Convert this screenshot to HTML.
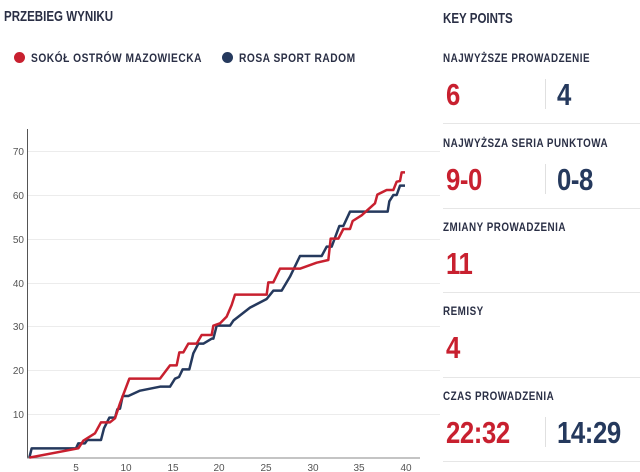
<!DOCTYPE html>
<html><head><meta charset="utf-8"><style>
body{margin:0;width:640px;height:472px;background:#fff;font-family:"Liberation Sans",sans-serif;position:relative;overflow:hidden;color:#2a2f45}
.a{position:absolute;white-space:nowrap;transform-origin:0 0}
.h{font-weight:bold;font-size:15px;color:#2a2f45;transform:scaleX(0.77)}
.t{font-weight:bold;font-size:12px;letter-spacing:0.6px;color:#2a2f45;transform:scaleX(0.82)}
.n{font-weight:bold;font-size:31px;letter-spacing:-0.5px;transform:scaleX(0.83)}
.r{color:#c8202f}.b{color:#25395d}
.hr{position:absolute;left:443px;width:197px;height:1px;background:#e6e6e6}
.vr{position:absolute;left:545px;width:1px;height:30px;background:#e0e0e0}
.dot{position:absolute;width:11px;height:11px;border-radius:50%}
</style></head><body>
<div class="a h" style="left:4px;top:8px">PRZEBIEG WYNIKU</div>
<div class="dot" style="left:14px;top:52px;background:#c8202f"></div>
<div class="a t" style="left:31px;top:51px;transform:scaleX(0.85)">SOKÓŁ OSTRÓW MAZOWIECKA</div>
<div class="dot" style="left:222px;top:52px;background:#25395d"></div>
<div class="a t" style="left:239px;top:51px;transform:scaleX(0.85)">ROSA SPORT RADOM</div>
<svg class="a" style="left:0;top:0" width="440" height="472">
<g stroke="#ececec" stroke-width="1">
<line x1="28" x2="440" y1="151.5" y2="151.5"/><line x1="28" x2="440" y1="195.5" y2="195.5"/><line x1="28" x2="440" y1="239.5" y2="239.5"/><line x1="28" x2="440" y1="283.5" y2="283.5"/><line x1="28" x2="440" y1="326.5" y2="326.5"/><line x1="28" x2="440" y1="370.5" y2="370.5"/><line x1="28" x2="440" y1="414.5" y2="414.5"/>
</g>
<line x1="27.5" x2="27.5" y1="129" y2="458" stroke="#555" stroke-width="1"/>
<line x1="27" x2="420" y1="458" y2="458" stroke="#888" stroke-width="1"/>
<g font-family="Liberation Sans,sans-serif" font-size="10" fill="#555" text-anchor="end">
<text x="24" y="155">70</text><text x="24" y="199">60</text><text x="24" y="243">50</text><text x="24" y="287">40</text><text x="24" y="330">30</text><text x="24" y="374">20</text><text x="24" y="418">10</text>
</g>
<g font-family="Liberation Sans,sans-serif" font-size="10" fill="#555" text-anchor="middle">
<text x="76" y="471">5</text><text x="126" y="471">10</text><text x="173" y="471">15</text><text x="219" y="471">20</text><text x="266" y="471">25</text><text x="313" y="471">30</text><text x="359" y="471">35</text><text x="406" y="471">40</text>
</g>
<g transform="translate(0,120) scale(0.33333)" fill="none" stroke-width="7.5" stroke-linejoin="round">
<polyline stroke="#25395d" points="88,1013 95,985 228,985 235,970 255,970 262,960 303,960 312,925 328,893 345,893 352,868 360,866 368,828 385,828 420,812 480,800 510,800 525,776 537,771 548,748 568,748 580,700 595,671 610,671 635,656 640,656 650,617 690,617 700,602 750,563 800,537 820,512 845,512 870,470 900,408 965,408 980,380 995,380 1018,318 1030,318 1050,275 1163,275 1168,244 1180,225 1190,225 1200,197 1215,197"/>
<polyline stroke="#c8202f" points="88,1013 235,985 250,962 285,940 303,907 330,907 345,895 360,850 388,776 480,776 510,736 530,736 538,697 550,697 565,671 590,671 605,645 635,645 640,617 660,610 680,590 695,555 705,524 800,524 805,487 820,487 840,446 900,446 950,428 985,420 992,356 1015,356 1030,327 1050,327 1058,303 1085,286 1125,250 1132,224 1160,210 1180,210 1190,185 1200,183 1205,157 1215,157"/>
</g>
</svg>
<div class="a h" style="left:443px;top:10px">KEY POINTS</div>
<div class="a t" style="left:443px;top:51px">NAJWYŻSZE PROWADZENIE</div>
<div class="a n r" style="left:446px;top:77px">6</div>
<div class="vr" style="top:79px"></div>
<div class="a n b" style="left:557px;top:77px">4</div>
<div class="hr" style="top:123px"></div>
<div class="a t" style="left:443px;top:136px">NAJWYŻSZA SERIA PUNKTOWA</div>
<div class="a n r" style="left:446px;top:162px">9-0</div>
<div class="vr" style="top:164px"></div>
<div class="a n b" style="left:557px;top:162px">0-8</div>
<div class="hr" style="top:208px"></div>
<div class="a t" style="left:443px;top:220px">ZMIANY PROWADZENIA</div>
<div class="a n r" style="left:446px;top:246px">11</div>
<div class="hr" style="top:292px"></div>
<div class="a t" style="left:443px;top:304px">REMISY</div>
<div class="a n r" style="left:446px;top:330px">4</div>
<div class="hr" style="top:377px"></div>
<div class="a t" style="left:443px;top:389px">CZAS PROWADZENIA</div>
<div class="a n r" style="left:446px;top:415px">22:32</div>
<div class="vr" style="top:417px"></div>
<div class="a n b" style="left:557px;top:415px">14:29</div>
<div class="hr" style="top:461px"></div>
</body></html>
